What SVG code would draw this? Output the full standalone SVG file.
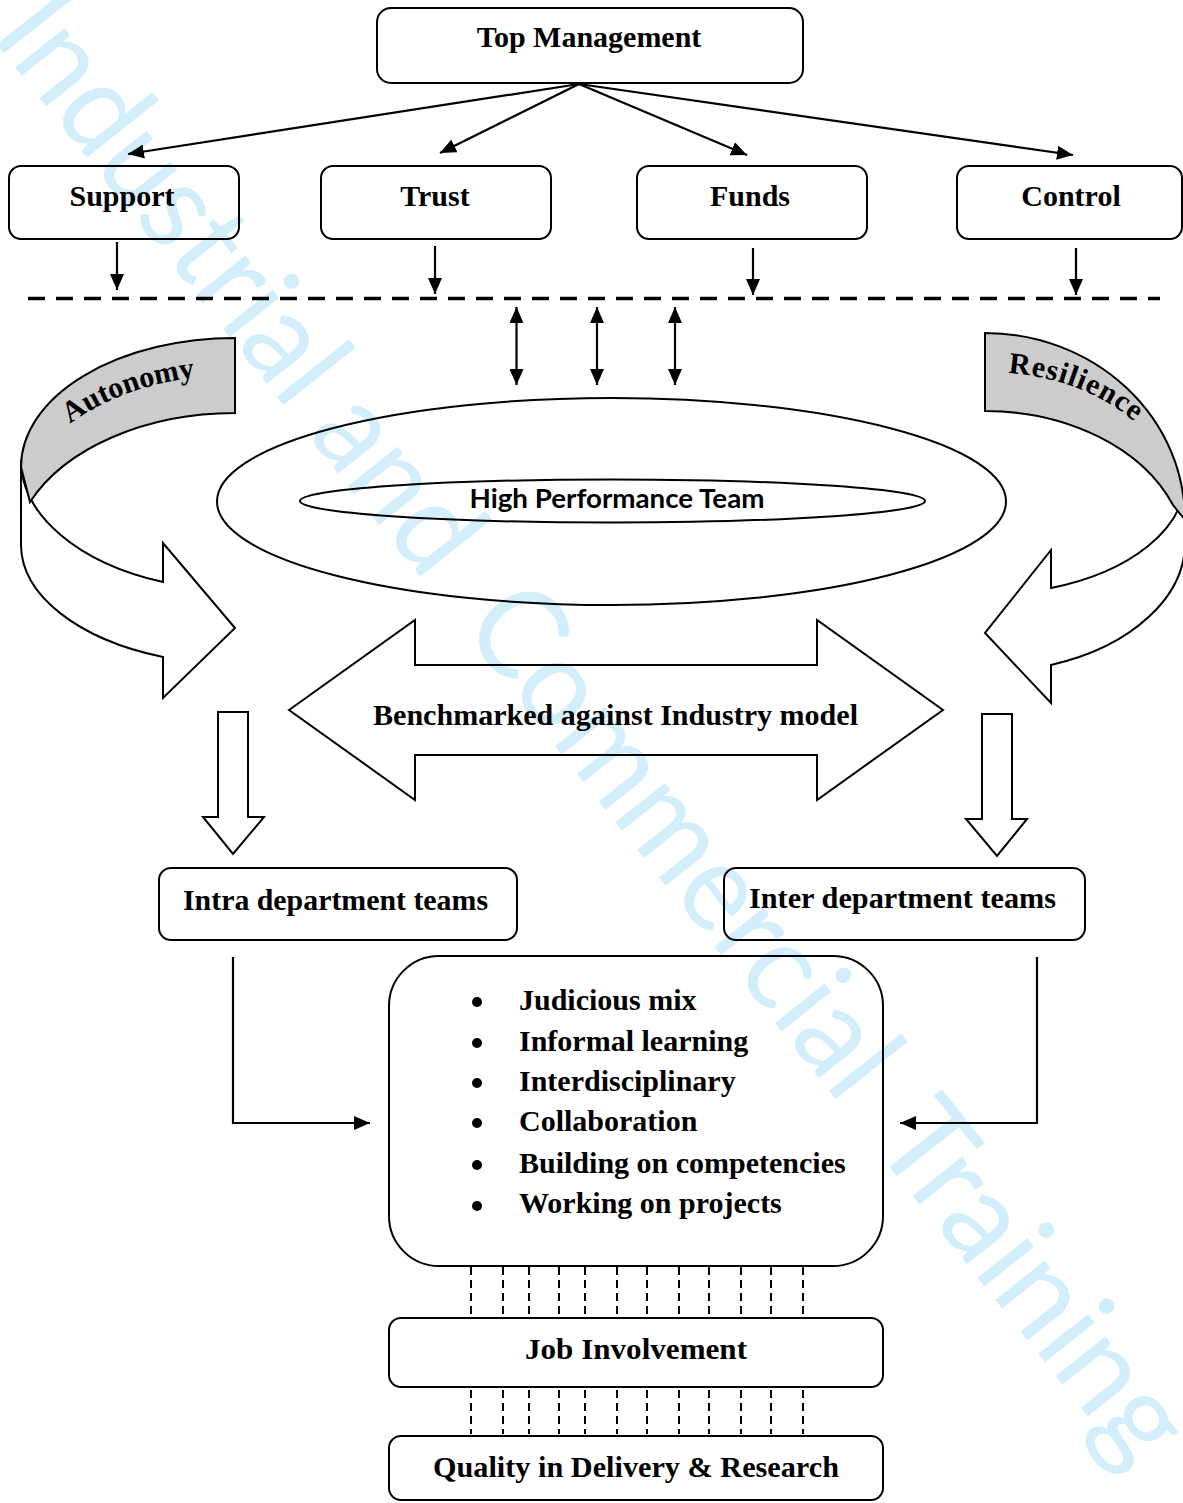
<svg xmlns="http://www.w3.org/2000/svg" width="1183" height="1503" viewBox="0 0 1183 1503">
<defs>
<marker id="ah" viewBox="0 0 16 14" refX="16" refY="7" markerWidth="16" markerHeight="14" markerUnits="userSpaceOnUse" orient="auto-start-reverse"><path d="M0,0 L16,7 L0,14 Z" fill="#000"/></marker>
<path id="autoArc" d="M70,424 A218,140 0 0 1 240,375"/>
<path id="resArc" d="M1008,373 A201,168 0 0 1 1175,470"/>
<style>
.box{fill:none;stroke:#000;stroke-width:2}
.lbl{font-family:"Liberation Serif","Times New Roman",serif;font-weight:bold;font-size:30px;fill:#000;text-anchor:middle}
.itm{font-family:"Liberation Serif","Times New Roman",serif;font-weight:bold;font-size:30px;fill:#000}
.ln{stroke:#000;stroke-width:2.2;fill:none}
.blk{fill:none;stroke:#000;stroke-width:2;stroke-linejoin:miter}
.band{fill:#cccccc;stroke:#000;stroke-width:2}
.wm{font-family:Lato,"Liberation Sans",sans-serif;font-size:125px;fill:#d3eefb}
.vd{stroke:#000;stroke-width:2;stroke-dasharray:8 5}
</style>
</defs>
<rect width="1183" height="1503" fill="#fff"/>

<g id="watermark" transform="translate(-10,36) rotate(51.5)">
<text class="wm" x="0" y="0" textLength="480" lengthAdjust="spacingAndGlyphs">Industrial</text>
<text class="wm" x="508" y="0" textLength="191" lengthAdjust="spacingAndGlyphs">and</text>
<text class="wm" x="755" y="0" textLength="612" lengthAdjust="spacingAndGlyphs">Commercial</text>
<text class="wm" x="1415" y="0" textLength="420" lengthAdjust="spacingAndGlyphs">Training</text>
</g>

<g id="top-management"><rect class="box" x="377" y="8" width="426" height="75" rx="14"/><text class="lbl" x="589" y="47">Top Management</text></g>
<g id="support"><rect class="box" x="9" y="166" width="230" height="73" rx="12"/><text class="lbl" x="122" y="206">Support</text></g>
<g id="trust"><rect class="box" x="321" y="166" width="230" height="73" rx="12"/><text class="lbl" x="435" y="206">Trust</text></g>
<g id="funds"><rect class="box" x="637" y="166" width="230" height="73" rx="12"/><text class="lbl" x="750" y="206">Funds</text></g>
<g id="control"><rect class="box" x="957" y="166" width="225" height="73" rx="12"/><text class="lbl" x="1071" y="206">Control</text></g>

<g id="autonomy">
<path class="blk" d="M21,460 A219,130 0 0 0 163,582 L163,543 L235,628 L163,698 L163,657 A219,120 0 0 1 21,545 Z"/>
<path class="band" d="M21,467 A214,129 0 0 1 235,338 L235,413 A223,147 0 0 0 30,502 Z"/>
<text class="itm" font-size="33"><textPath href="#autoArc">Autonomy</textPath></text>
</g>

<g id="resilience">
<path class="blk" d="M1185,480 A200,115 0 0 1 1051,588 L1051,550 L985,633 L1051,703 L1051,665 A200,130 0 0 0 1185,540 Z"/>
<path class="band" d="M985,333 A200,187 0 0 1 1185,520 L1173,505 A202,149 0 0 0 985,411 Z"/>
<text class="itm" font-size="32" letter-spacing="1"><textPath href="#resArc">Resilience</textPath></text>
</g>

<g id="high-performance-team">
<ellipse cx="611.5" cy="501.5" rx="394.5" ry="103.5" fill="none" stroke="#000" stroke-width="2"/>
<ellipse cx="612.5" cy="501" rx="312.5" ry="21.5" fill="none" stroke="#000" stroke-width="2"/>
<text x="617" y="508" text-anchor="middle" font-family="Lato,'Liberation Sans',sans-serif" font-weight="bold" font-size="27" textLength="295" lengthAdjust="spacingAndGlyphs">High Performance Team</text>
</g>

<g id="benchmark">
<path class="blk" d="M289,710 L415,620 L415,665 L817,665 L817,620 L943,710 L817,800 L817,755 L415,755 L415,800 Z"/>
<text class="lbl" x="615.5" y="725" textLength="485" lengthAdjust="spacingAndGlyphs">Benchmarked against Industry model</text>
</g>

<g id="down-left"><path class="blk" d="M218,712 L248,712 L248,817 L264,817 L233,854 L203,817 L218,817 Z"/></g>
<g id="down-right"><path class="blk" d="M982,714 L1012,714 L1012,819 L1027,819 L997,856 L966,819 L982,819 Z"/></g>

<g id="intra"><rect class="box" x="159" y="868" width="358" height="72" rx="12"/><text class="lbl" x="335.5" y="910" textLength="305" lengthAdjust="spacingAndGlyphs">Intra department teams</text></g>
<g id="inter"><rect class="box" x="724" y="868" width="361" height="72" rx="12"/><text class="lbl" x="902.5" y="908" textLength="307" lengthAdjust="spacingAndGlyphs">Inter department teams</text></g>

<g id="practices">
<rect class="box" x="389" y="956" width="494" height="310" rx="50"/>
<circle cx="477" cy="1002" r="5"/><text class="itm" x="519" y="1010">Judicious mix</text>
<circle cx="477" cy="1043" r="5"/><text class="itm" x="519" y="1051">Informal learning</text>
<circle cx="477" cy="1083" r="5"/><text class="itm" x="519" y="1091">Interdisciplinary</text>
<circle cx="477" cy="1123" r="5"/><text class="itm" x="519" y="1131">Collaboration</text>
<circle cx="477" cy="1165" r="5"/><text class="itm" x="519" y="1173">Building on competencies</text>
<circle cx="477" cy="1206" r="5"/><text class="itm" x="519" y="1213">Working on projects</text>
</g>

<g id="job-involvement"><rect class="box" x="389" y="1318" width="494" height="69" rx="12"/><text class="lbl" x="636" y="1359" textLength="222" lengthAdjust="spacingAndGlyphs">Job Involvement</text></g>
<g id="quality"><rect class="box" x="389" y="1436" width="494" height="64" rx="12"/><text class="lbl" x="636" y="1477" textLength="406" lengthAdjust="spacingAndGlyphs">Quality in Delivery &amp; Research</text></g>

<g id="connectors">
<line class="ln" x1="579" y1="84" x2="128" y2="154" marker-end="url(#ah)"/>
<line class="ln" x1="579" y1="84" x2="440" y2="153" marker-end="url(#ah)"/>
<line class="ln" x1="579" y1="84" x2="747" y2="155" marker-end="url(#ah)"/>
<line class="ln" x1="579" y1="84" x2="1073" y2="155" marker-end="url(#ah)"/>
<line class="ln" x1="117" y1="242" x2="117" y2="290" marker-end="url(#ah)"/>
<line class="ln" x1="435" y1="246" x2="435" y2="294" marker-end="url(#ah)"/>
<line class="ln" x1="753" y1="248" x2="753" y2="295" marker-end="url(#ah)"/>
<line class="ln" x1="1076" y1="248" x2="1076" y2="295" marker-end="url(#ah)"/>
<line x1="28" y1="298.5" x2="1160" y2="298.5" stroke="#000" stroke-width="3.5" stroke-dasharray="17 11"/>
<line class="ln" x1="516.5" y1="307" x2="516.5" y2="385" marker-start="url(#ah)" marker-end="url(#ah)"/>
<line class="ln" x1="597" y1="307" x2="597" y2="385" marker-start="url(#ah)" marker-end="url(#ah)"/>
<line class="ln" x1="675" y1="307" x2="675" y2="385" marker-start="url(#ah)" marker-end="url(#ah)"/>
<polyline class="ln" points="233,957 233,1123 370,1123" marker-end="url(#ah)"/>
<polyline class="ln" points="1037,957 1037,1123 900,1123" marker-end="url(#ah)"/>
<g class="vd">
<line x1="471" y1="1267" x2="471" y2="1317"/><line x1="503" y1="1267" x2="503" y2="1317"/><line x1="529" y1="1267" x2="529" y2="1317"/><line x1="559" y1="1267" x2="559" y2="1317"/><line x1="585" y1="1267" x2="585" y2="1317"/><line x1="617" y1="1267" x2="617" y2="1317"/><line x1="647" y1="1267" x2="647" y2="1317"/><line x1="679" y1="1267" x2="679" y2="1317"/><line x1="709" y1="1267" x2="709" y2="1317"/><line x1="741" y1="1267" x2="741" y2="1317"/><line x1="771" y1="1267" x2="771" y2="1317"/><line x1="803" y1="1267" x2="803" y2="1317"/>
<line x1="471" y1="1390" x2="471" y2="1434"/><line x1="503" y1="1390" x2="503" y2="1434"/><line x1="529" y1="1390" x2="529" y2="1434"/><line x1="559" y1="1390" x2="559" y2="1434"/><line x1="585" y1="1390" x2="585" y2="1434"/><line x1="617" y1="1390" x2="617" y2="1434"/><line x1="647" y1="1390" x2="647" y2="1434"/><line x1="679" y1="1390" x2="679" y2="1434"/><line x1="709" y1="1390" x2="709" y2="1434"/><line x1="741" y1="1390" x2="741" y2="1434"/><line x1="771" y1="1390" x2="771" y2="1434"/><line x1="803" y1="1390" x2="803" y2="1434"/>
</g>
</g>
</svg>
